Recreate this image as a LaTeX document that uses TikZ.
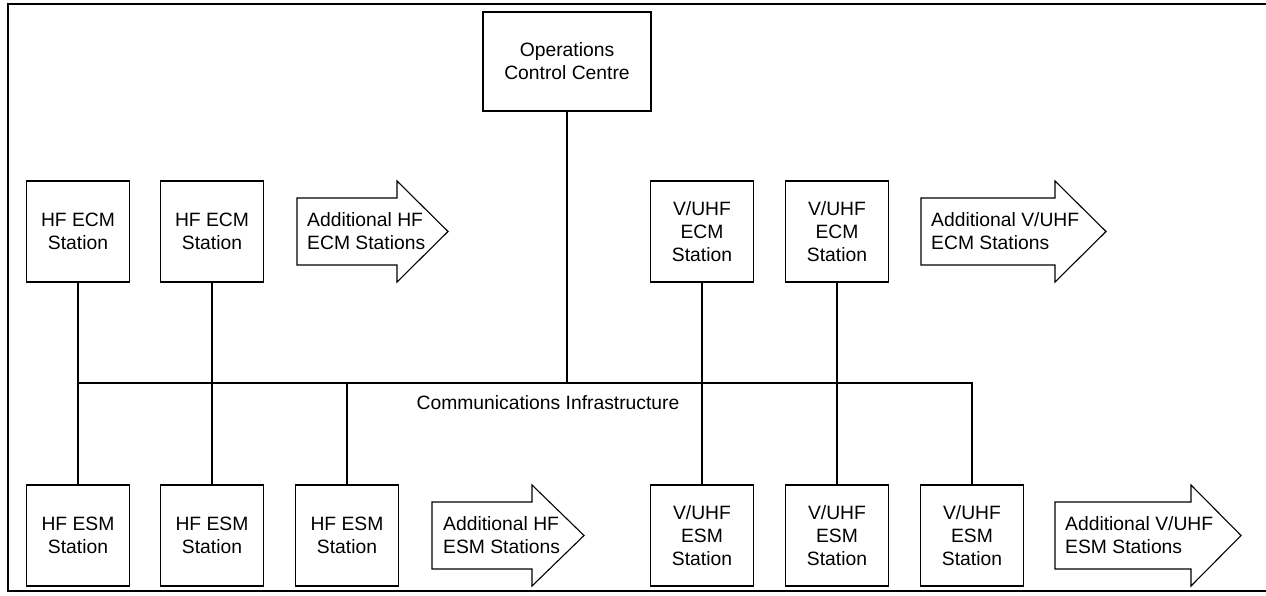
\documentclass[tikz,border=0pt]{standalone}
\usepackage{fontspec}
\setmainfont{Liberation Sans}
\begin{document}
\begin{tikzpicture}[x=1pt,y=-1pt,
  stationbox/.style={draw,line width=1.1pt,minimum width=103pt,minimum height=101pt,inner sep=0pt,align=center,font=\fontsize{19.3}{23}\selectfont},
  arrowshape/.style={draw,line width=1.1pt,line join=miter},
  arrowtext/.style={anchor=west,align=left,inner sep=0pt,font=\fontsize{19.3}{23}\selectfont},
  link/.style={line width=1.1pt},
  frame/.style={line width=1.8pt}]
\useasboundingbox (0,0) rectangle (1266,595);
% frame
\draw[frame] (1266,4) -- (8,4) -- (8,591) -- (1266,591);
% operations centre
\node[stationbox,minimum width=168pt,minimum height=99pt] (occ) at (567,61.5) {Operations\\Control Centre};
% top row
\node[stationbox] (hecm1) at (78,231.5) {HF ECM\\Station};
\node[stationbox] (hecm2) at (212,231.5) {HF ECM\\Station};
\node[stationbox] (vecm1) at (702,231.5) {V/UHF\\ECM\\Station};
\node[stationbox] (vecm2) at (837,231.5) {V/UHF\\ECM\\Station};
% bottom row
\node[stationbox] (hesm1) at (78,535.5) {HF ESM\\Station};
\node[stationbox] (hesm2) at (212,535.5) {HF ESM\\Station};
\node[stationbox] (hesm3) at (347,535.5) {HF ESM\\Station};
\node[stationbox] (vesm1) at (702,535.5) {V/UHF\\ESM\\Station};
\node[stationbox] (vesm2) at (837,535.5) {V/UHF\\ESM\\Station};
\node[stationbox] (vesm3) at (972,535.5) {V/UHF\\ESM\\Station};
% additional-station arrows
\draw[arrowshape] (297,198) -- (397,198) -- (397,181) -- (448,231.5) -- (397,282) -- (397,265) -- (297,265) -- cycle;
\node[arrowtext] (addhecm) at (307,231.5) {Additional HF\\ECM Stations};
\draw[arrowshape] (921,198) -- (1055,198) -- (1055,181) -- (1106,231.5) -- (1055,282) -- (1055,265) -- (921,265) -- cycle;
\node[arrowtext] (addvecm) at (931,231.5) {Additional V/UHF\\ECM Stations};
\draw[arrowshape] (432,502) -- (532,502) -- (532,485) -- (584,535.5) -- (532,586) -- (532,569) -- (432,569) -- cycle;
\node[arrowtext] (addhesm) at (443,535.5) {Additional HF\\ESM Stations};
\draw[arrowshape] (1055,502) -- (1191,502) -- (1191,485) -- (1241,535.5) -- (1191,586) -- (1191,569) -- (1055,569) -- cycle;
\node[arrowtext] (addvesm) at (1065,535.5) {Additional V/UHF\\ESM Stations};
% communications bus
\coordinate (busL) at (78,383);
\coordinate (busR) at (972,383);
\draw[link] (busL) -- (busR) -- (vesm3.north);
\draw[link] (hecm1.south) -- (hesm1.north);
\draw[link] (hecm2.south) -- (hesm2.north);
\draw[link] (vecm1.south) -- (vesm1.north);
\draw[link] (vecm2.south) -- (vesm2.north);
\draw[link] (hesm3.north) -- (hesm3.north |- busL);
\draw[link] (occ.south) -- (occ.south |- busL);
\node[font=\fontsize{19.3}{23}\selectfont,inner sep=0pt] (comms) at (548,403) {Communications Infrastructure};
\end{tikzpicture}
\end{document}
